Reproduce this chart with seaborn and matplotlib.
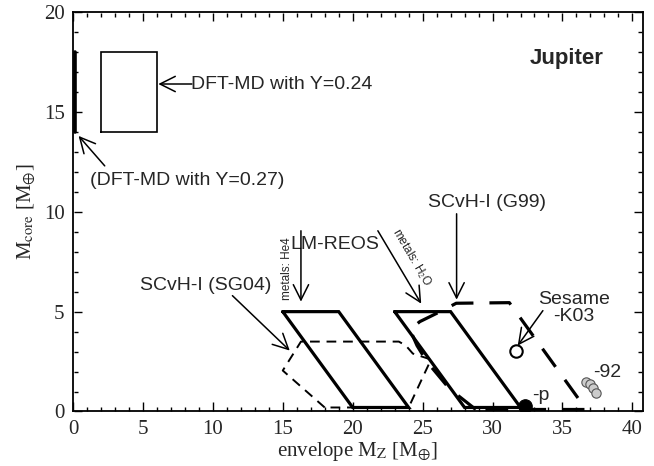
import numpy as np
import pandas as pd
import matplotlib
matplotlib.use("Agg")
import matplotlib.pyplot as plt
from matplotlib.collections import LineCollection
import seaborn as sns

# envelope metal mass M_Z vs core mass
# DFT-MD with Y=0.24 (box) and Y=0.27 (thin bar along x=0)
dft24_x = [2, 6, 6, 2, 2]
dft24_y = [14, 14, 18, 18, 14]
dft27_x = [0.12, 0.12]
dft27_y = [14, 18]

# LM-REOS, metals He4 and H2O
he4_x = [15, 19, 24, 20, 15]
he4_y = [5, 5, 0.2, 0.2, 5]
h2o_x = [23, 27, 32, 28, 23]
h2o_y = [5, 5, 0.2, 0.2, 5]

# SCvH-I (SG04) and SCvH-I (G99)
sg04_x = [18, 15, 16.3, 23.3, 23.8, 24.3, 25.6, 24, 18]
sg04_y = [0.2, 2.05, 3.5, 3.5, 3.3, 2.9, 2.6, 0.2, 0.2]
g99_x = [28.8, 26.9, 25.3, 24.6, 24.1, 24.8, 26.4, 27.4, 31.2, 36.7, 28.8]
g99_y = [0.1, 1.15, 2.5, 3.3, 4.1, 4.5, 5.05, 5.42, 5.45, 0.1, 0.1]

# single models
sesame_x, sesame_y = [31.7], [3.05]
sesp_x, sesp_y = [32.3], [0.25]
ses92_x = [36.7, 36.95, 37.2, 37.4]
ses92_y = [1.5, 1.38, 1.2, 0.92]

sns.set_style("white")
plt.rcParams["font.family"] = ["Liberation Serif", "DejaVu Serif"]
plt.rcParams["mathtext.fontset"] = "stix"

fig = plt.figure(figsize=(6.54, 4.66), dpi=100)
ax = fig.add_axes([0.1116, 0.117, 0.8714, 0.857])


def outline(x, y, lw, dashes=None, clip=True):
    df = pd.DataFrame({"x": x, "y": y})
    line = sns.lineplot(data=df, x="x", y="y", sort=False, estimator=None,
                        color="black", lw=lw, ax=ax).lines[-1]
    if dashes:
        line.set_dashes(dashes)
    line.set_solid_joinstyle("miter")
    line.set_clip_on(clip)


outline(dft24_x, dft24_y, 1.2)
outline(dft27_x, dft27_y, 2.6, clip=False)
outline(he4_x, he4_y, 2.3)
outline(h2o_x, h2o_y, 2.3)
outline(sg04_x, sg04_y, 1.4, (5, 3.5))
outline(g99_x, g99_y, 2.3, (7, 5))

sns.scatterplot(x=sesame_x, y=sesame_y, s=80, facecolor="white",
                edgecolor="black", linewidth=1.5, ax=ax, zorder=5)
sns.scatterplot(x=sesp_x, y=sesp_y, s=95, color="black",
                edgecolor="black", ax=ax, zorder=5)
sns.scatterplot(x=ses92_x, y=ses92_y, s=45, color="#cccccc",
                edgecolor="#555555", linewidth=0.8, ax=ax, zorder=5)

ax.set_xlim(0, 40.75)
ax.set_ylim(0, 20)
ax.set_xticks(np.arange(0, 41, 5))
ax.set_yticks(np.arange(0, 21, 5))
ax.tick_params(which="both", length=0, labelsize=15, pad=6)
for s in ax.spines.values():
    s.set_linewidth(1.3)
    s.set_color("black")

# inward ticks on all four sides, built as one segment collection per axis
xmaj = ax.get_xticks()
ymaj = ax.get_yticks()
xmin = [v for v in np.arange(0, 41, 1) if v not in xmaj]
ymin = [v for v in np.arange(0, 21, 1) if v not in ymaj]
xsegs, ysegs = [], []
for pos, ln in ((xmaj, 0.0225), (xmin, 0.012)):
    for v in pos:
        xsegs.append([(v, 0.002), (v, ln)])
        xsegs.append([(v, 1 - ln), (v, 0.998)])
for pos, ln in ((ymaj, 0.0158), (ymin, 0.0085)):
    for v in pos:
        ysegs.append([(0.0015, v), (ln, v)])
        ysegs.append([(1 - ln, v), (0.9985, v)])
ax.add_collection(LineCollection(xsegs, colors="black", linewidths=1.0,
                                 transform=ax.get_xaxis_transform(),
                                 zorder=6, clip_on=False),
                  autolim=False)
ax.add_collection(LineCollection(ysegs, colors="black", linewidths=1.0,
                                 transform=ax.get_yaxis_transform(),
                                 zorder=6, clip_on=False),
                  autolim=False)

ax.set_xlabel(r"envelope M$_{\mathrm{Z}}$ [M$_{\oplus}$]", fontsize=15,
              labelpad=1)
ax.set_ylabel(r"M$_{\mathrm{core}}$ [M$_{\oplus}$]", fontsize=15, labelpad=4)

sans = ["Liberation Sans", "DejaVu Sans"]
fs = 14
arrow = dict(arrowstyle="->,head_length=0.5,head_width=0.25",
             color="black", lw=1.1, mutation_scale=22, shrinkA=0, shrinkB=0)


def arr(tail, tip):
    ax.annotate("", xy=tip, xytext=tail, arrowprops=arrow)


ax.text(35.3, 17.7, "Jupiter", family=sans, fontsize=16, fontweight="bold",
        ha="center", va="center")

ax.text(8.45, 16.4, "DFT-MD with Y=0.24", family=sans, fontsize=fs,
        ha="left", va="center")
arr((8.5, 16.4), (6.1, 16.4))

ax.text(1.2, 11.55, "(DFT-MD with Y=0.27)", family=sans, fontsize=fs,
        ha="left", va="center")
arr((2.27, 12.3), (0.4, 13.8))

ax.text(18.7, 8.35, "LM-REOS", family=sans, fontsize=fs,
        ha="center", va="center")
arr((16.3, 9.05), (16.3, 5.5))
arr((21.8, 9.05), (24.9, 5.4))
ax.text(15.3, 7.15, "metals: He4", family=sans, fontsize=8.5, rotation=90,
        ha="center", va="center")
ax.text(24.2, 7.7, "metals: H$_2$O", family=sans, fontsize=8.5,
        rotation=-59.5, ha="center", va="center", rotation_mode="anchor")

ax.text(9.5, 6.3, "SCvH-I (SG04)", family=sans, fontsize=fs,
        ha="center", va="center")
arr((11.4, 5.8), (15.5, 3.05))

ax.text(29.6, 10.47, "SCvH-I (G99)", family=sans, fontsize=fs,
        ha="center", va="center")
arr((27.43, 9.9), (27.43, 5.6))

ax.text(35.8, 5.2, "Sesame\n-K03", family=sans, fontsize=fs,
        ha="center", va="center", linespacing=1.0)
arr((33.6, 5.05), (31.8, 3.3))

ax.text(33.45, 0.8, "-p", family=sans, fontsize=fs, ha="center",
        va="center")
ax.text(38.2, 1.97, "-92", family=sans, fontsize=fs, ha="center",
        va="center")

fig.savefig("out.png", dpi=100)
